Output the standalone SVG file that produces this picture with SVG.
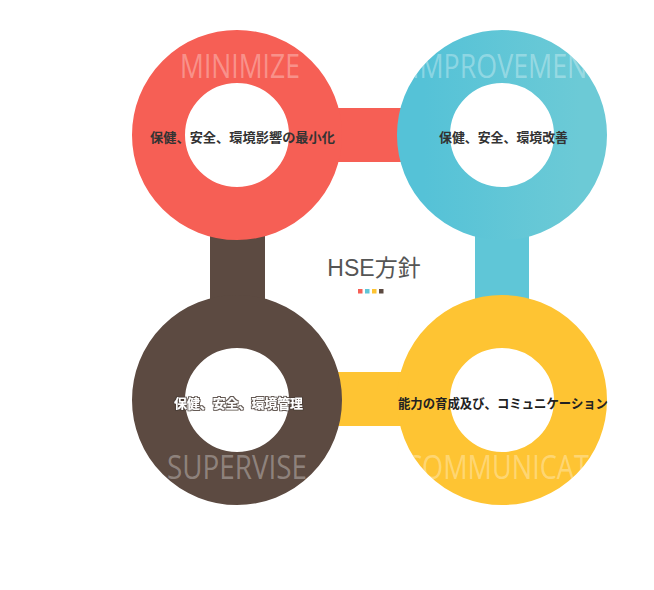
<svg xmlns="http://www.w3.org/2000/svg" width="654" height="590" viewBox="0 0 654 590">
  <defs>
    <linearGradient id="blueGrad" x1="0" y1="0" x2="1" y2="0">
      <stop offset="0" stop-color="#55c2d7"/>
      <stop offset="1" stop-color="#6ccad6"/>
    </linearGradient>
    <clipPath id="clipRed"><circle cx="237" cy="135" r="105"/></clipPath>
    <clipPath id="clipBlue"><circle cx="502" cy="135" r="105"/></clipPath>
    <clipPath id="clipBrown"><circle cx="237" cy="400" r="105"/></clipPath>
    <clipPath id="clipYellow"><circle cx="502" cy="400" r="105"/></clipPath>
    <filter id="softShadow" x="-10%" y="-50%" width="120%" height="200%">
      <feMorphology in="SourceAlpha" operator="dilate" radius="0.7" result="thick"/>
      <feGaussianBlur in="thick" stdDeviation="0.4" result="blur"/>
      <feFlood flood-color="#4a3d36" flood-opacity="0.85"/>
      <feComposite in2="blur" operator="in" result="shadow"/>
      <feMerge>
        <feMergeNode in="shadow"/>
        <feMergeNode in="SourceGraphic"/>
      </feMerge>
    </filter>
  </defs>
  <style>
    .ring { fill: #ffffff; stroke-width: 53; }
    .word { font-family: "Open Sans", "Liberation Sans", sans-serif; font-size: 32px; fill: #ffffff; fill-opacity: 0.33; }
    .desc { font-family: "Noto Sans CJK JP", "Noto Sans", sans-serif; font-size: 13px; font-weight: bold; fill: #333333; text-anchor: middle; }
    .title { font-family: "Liberation Sans", "Noto Sans CJK JP", sans-serif; font-size: 23px; fill: #555555; text-anchor: middle; }
  </style>
  <rect width="654" height="590" fill="#ffffff"/>

  <g id="connectors">
    <rect x="290" y="108" width="160" height="54" fill="#f65f55"/>
    <rect x="475" y="200" width="54" height="140" fill="#5fc6d7"/>
    <rect x="210" y="200" width="55" height="140" fill="#5c4a41"/>
    <rect x="290" y="372" width="160" height="54" fill="#fec433"/>
  </g>

  <g id="node-minimize">
    <circle class="ring" cx="237" cy="135" r="78.5" stroke="#f65f55"/>
    <text class="word" x="180" y="78" textLength="120" lengthAdjust="spacingAndGlyphs" clip-path="url(#clipRed)">MINIMIZE</text>
    <text class="desc" x="242.5" y="141.5" textLength="185" lengthAdjust="spacingAndGlyphs">保健、安全、環境影響の最小化</text>
  </g>

  <g id="node-improvement">
    <circle class="ring" cx="502" cy="135" r="78.5" stroke="url(#blueGrad)"/>
    <text class="word" x="412" y="78" textLength="190" lengthAdjust="spacingAndGlyphs" clip-path="url(#clipBlue)">IMPROVEMENT</text>
    <text class="desc" x="503.5" y="141.5" textLength="129" lengthAdjust="spacingAndGlyphs">保健、安全、環境改善</text>
  </g>

  <g id="node-supervise">
    <circle class="ring" cx="237" cy="400" r="78.5" stroke="#5c4a41"/>
    <text class="word" x="167" y="479" textLength="140" lengthAdjust="spacingAndGlyphs" clip-path="url(#clipBrown)">SUPERVISE</text>
    <text class="desc" x="238.5" y="407.5" textLength="129" lengthAdjust="spacingAndGlyphs" filter="url(#softShadow)" style="fill:#ffffff">保健、安全、環境管理</text>
  </g>

  <g id="node-communication">
    <circle class="ring" cx="502" cy="400" r="78.5" stroke="#fec433"/>
    <text class="word" x="405" y="479" textLength="233" lengthAdjust="spacingAndGlyphs" clip-path="url(#clipYellow)">COMMUNICATION</text>
    <text class="desc" x="503" y="407.5" textLength="210" lengthAdjust="spacingAndGlyphs" style="fill:#222222">能力の育成及び、コミュニケーション</text>
  </g>

  <g id="title">
    <text class="title" x="374" y="276">HSE方針</text>
    <rect x="358" y="289" width="4.5" height="4.5" fill="#f65f55"/>
    <rect x="365" y="289" width="4.5" height="4.5" fill="#5fc6d7"/>
    <rect x="372" y="289" width="4.5" height="4.5" fill="#fec433"/>
    <rect x="379" y="289" width="4.5" height="4.5" fill="#5c4a41"/>
  </g>
</svg>
